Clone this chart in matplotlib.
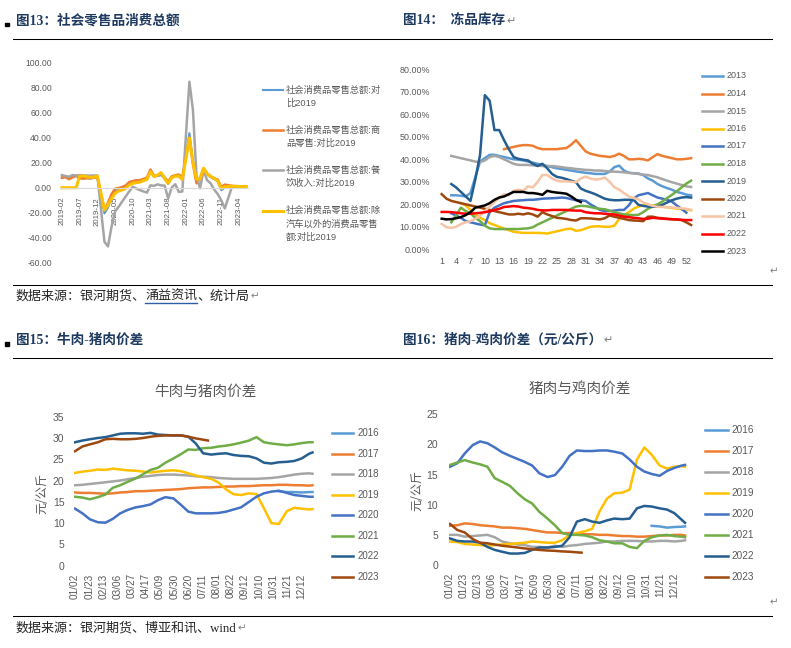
import numpy as np
import pandas as pd
import matplotlib
matplotlib.use('Agg')
import matplotlib.pyplot as plt
from matplotlib.lines import Line2D
from matplotlib.patches import Rectangle
from matplotlib.ticker import StrMethodFormatter

nan = np.nan

# ---------------- 图13 社会零售品消费总额 (monthly, vs 2019) ----------------
MONTHS = [p.strftime('%Y-%m') for p in pd.period_range('2019-02', '2023-06', freq='M')]
RETAIL_TOTAL = [8.2, 8.7, 7.2, 8.6, 9.8, 7.6, 7.5, 7.8, 7.2, 8.0, 8.0,
                nan, -20.5, -15.8, -7.5, -2.8, -1.8, -1.1, 0.5, 3.3, 4.3, 5.0, 4.6,
                nan, 6.4, 13.0, 8.9, 9.3, 10.1, 7.3, 3.0, 7.9, 9.4, 9.1, 6.4,
                nan, 43.5, 21.0, 5.5, 6.5, 15.0, 10.5, 8.5, 7.0, 5.0, -2.0, 0.0,
                nan, 1.0, 1.0, 1.0, 1.0, 1.0]
RETAIL_GOODS = [8.0, 8.4, 6.8, 8.3, 9.5, 7.5, 7.3, 7.6, 7.5, 8.0, 8.5,
                nan, -17.6, -12.0, -5.1, -0.8, -0.2, 0.5, 1.8, 4.5, 5.3, 6.0, 6.0,
                nan, 8.0, 14.5, 9.5, 10.0, 11.5, 8.2, 5.0, 9.0, 10.0, 10.5, 8.0,
                nan, 40.0, 19.0, 3.5, 7.5, 15.5, 11.5, 9.0, 7.5, 6.5, 0.5, 2.5,
                nan, 1.5, 1.2, 1.2, 1.0, 1.0]
RETAIL_CATERING = [10.1, 9.3, 8.8, 10.1, 9.6, 10.1, 9.8, 9.8, 9.6, 9.8, 9.8,
                   nan, -43.1, -46.8, -31.1, -18.9, -15.2, -11.0, -7.0, -2.9, 0.8, -0.6, -1.9,
                   nan, -3.9, 1.9, 1.5, 2.7, 1.9, 1.7, -8.5, 0.1, 2.8, -3.3, -3.0,
                   nan, 84.5, 62.0, 10.0, -0.5, 14.0, 6.0, 3.5, -1.5, -5.0, -10.0, -16.5,
                   nan, 0.5, 1.0, 1.0, 1.0, 1.0]
RETAIL_EX_AUTO = [0, 0, 0, 0, 0, 9.3, 9.3, 8.8, 8.2, 8.5, 9.3,
                  nan, -17.8, -13.8, -8.5, -4.5, -2.6, -1.8, -0.5, 2.2, 3.5, 4.0, 4.5,
                  nan, 6.7, 12.8, 8.8, 10.0, 12.0, 7.4, 3.5, 8.0, 9.3, 9.3, 6.6,
                  nan, 39.5, 20.0, 7.0, 7.0, 15.5, 11.0, 9.0, 7.5, 5.5, -0.5, 0.8,
                  nan, 1.2, 1.2, 1.0, 1.0, 1.0]
RETAIL_LABELS = [['社会消费品零售总额:对', '比2019'],
                 ['社会消费品零售总额:商', '品零售:对比2019'],
                 ['社会消费品零售总额:餐', '饮收入:对比2019'],
                 ['社会消费品零售总额:除', '汽车以外的消费品零售', '额:对比2019']]
RETAIL_COLORS = ['#5B9BD5', '#ED7D31', '#A5A5A5', '#FFC000']
RETAIL_LW = [1.5, 1.8, 1.8, 2.2]

# ---------------- 图14 冻品库存 (weekly, %) ----------------
WEEKS = list(range(1, 54))
STOCK_YEARS = ['2013', '2014', '2015', '2016', '2017', '2018', '2019', '2020', '2021', '2022', '2023']
STOCK_COLORS = ['#5B9BD5', '#ED7D31', '#A5A5A5', '#FFC000', '#4472C4', '#70AD47',
                '#255E91', '#9E480E', '#F7C4A5', '#FF0000', '#000000']
S2013 = [nan, nan, 24.0, 24.0, 23.8, 23.5, 25.0, 32.0, 39.0, 40.5, 42.0, 42.0, 41.5, 41.0, 40.5,
         40.0, 39.8, 39.5, 39.0, 38.5, 38.0, 37.5, 37.0, 36.5, 36.0, 35.7, 35.3, 35.0, 34.6, 34.3,
         34.0, 33.8, 33.5, 33.5, 33.5, 34.5, 36.5, 37.2, 35.0, 34.0, 33.8, 33.7, 33.0, 31.5, 30.5,
         29.0, 28.0, 27.2, 26.5, 25.5, 25.0, 24.3, 24.0]
S2014 = [nan] * 13 + [44.5, 45.0, 45.5, 46.0, 46.3, 46.3, 46.0, 45.0, 44.5, 44.5, 44.5, 44.5,
                      44.8, 45.0, 46.5, 48.5, 46.0, 43.5, 42.5, 42.0, 41.5, 41.3, 41.0, 41.5, 42.5,
                      41.5, 40.0, 40.0, 40.2, 40.0, 39.5, 41.0, 42.3, 41.5, 41.0, 40.5, 40.0, 40.0,
                      40.2, 40.5]
S2015 = [nan, nan, 41.5, 41.0, 40.5, 40.0, 39.5, 39.0, 38.7, 39.5, 41.0, 41.5, 41.0, 40.0, 39.0,
         38.0, 37.5, 37.5, 37.5, 37.3, 37.2, 37.0, 37.0, 37.0, 36.8, 36.5, 36.2, 36.0, 35.7, 35.5,
         35.3, 35.2, 35.0, 35.0, 34.8, 34.6, 34.5, 34.4, 34.2, 34.0, 33.8, 33.5, 33.2, 33.0, 32.5,
         32.0, 31.2, 30.5, 29.8, 29.2, 28.6, 28.0, 27.7]
S2016 = [nan] * 4 + [20.5, 19.5, 17.5, 15.5, 14.0, 13.0, 11.6, 10.8, 10.0, 9.2, 8.5, 7.8, 7.5,
                     7.3, 7.3, 7.3, 7.3, 7.2, 7.0, 7.5, 8.0, 8.5, 9.0, 9.2, 8.2, 8.5, 9.2, 10.0,
                     10.2, 10.2, 10.0, 10.0, 10.5, 13.5, 15.0, 16.5, 18.0, 19.0, 19.5, 19.8, 19.5,
                     19.2, 19.0, 18.7, 18.4, 18.1, 17.9, 17.7, 17.4]
S2017 = [nan, nan, 16.0, 15.0, 14.0, 12.5, 12.0, 11.5, 11.0, 10.7, 16.5, 18.5, 19.5, 20.5, 21.0,
         21.5, 21.7, 21.8, 22.0, 22.0, 22.2, 22.5, 22.6, 22.7, 22.8, 23.0, 22.8, 22.3, 21.8, 21.8,
         21.5, 20.0, 18.8, 17.5, 17.0, 17.0, 17.2, 17.5, 17.5, 19.5, 22.5, 24.0, 24.5, 25.0, 24.0,
         23.0, 22.5, 22.0, 21.2, 19.5, 18.0, 16.3, nan]
S2018 = [nan, nan, 12.0, 15.0, 18.5, 17.0, 16.0, 14.0, 12.5, 10.5, 9.3, 9.0, 9.0, 9.0, 9.0, 9.0,
         9.0, 9.2, 9.3, 9.8, 11.0, 12.0, 13.0, 14.0, 15.0, 16.0, 17.0, 18.0, 19.0, 19.3, 19.2,
         18.8, 18.3, 18.0, 17.8, 17.2, 16.5, 16.0, 15.5, 15.3, 15.2, 15.3, 16.5, 18.0, 19.0, 20.0,
         21.2, 22.8, 24.2, 25.8, 27.5, 29.2, 30.5]
S2019 = [nan, nan, 29.0, 27.5, 25.5, 23.5, 21.5, 31.0, 42.0, 68.5, 66.0, 53.0, 53.0, 48.5, 44.5,
         41.0, 40.2, 39.8, 39.5, 38.0, 37.0, 38.0, 36.0, 33.5, 32.2, 31.8, 31.2, 30.5, 29.8, 27.0,
         26.0, 25.3, 24.5, 23.5, 22.5, 22.0, 21.8, 21.8, 22.0, 22.0, 22.0, 19.8, 19.3, 19.0, 18.9,
         19.0, 19.8, 20.8, 21.8, 22.5, 23.0, 23.2, 23.0]
S2020 = [24.5, 22.5, 21.5, 21.0, 20.5, 20.0, 19.5, 19.0, 18.5, 18.0, 17.5, 17.0, 16.5, 16.0, 15.5,
         15.5, 15.8, 15.5, 16.0, 15.5, 14.5, 16.5, 15.5, 14.8, 14.0, 13.8, 13.5, 13.0, 12.8, 13.8,
         13.8, 13.7, 13.5, 13.3, 13.8, 15.0, 14.5, 14.0, 13.5, 13.0, 12.8, 12.7, 12.5, 14.5, 14.5,
         14.0, 13.8, 13.5, 13.3, 13.2, 13.0, 12.0, 10.8]
S2021 = [11.3, 9.8, 9.5, 10.0, 11.2, 12.0, 12.5, 13.5, 15.0, 17.0, 19.0, 21.0, 23.0, 24.5, 24.0,
         26.0, 26.5, 26.0, 28.0, 27.5, 30.0, 33.0, 33.0, 31.5, 30.5, 30.2, 30.2, 30.0, 29.8, 31.5,
         32.3, 31.5, 31.0, 31.2, 31.9, 30.0, 27.6, 26.5, 25.0, 23.5, 22.8, 22.2, 20.8, 20.0, 19.3,
         18.9, 18.8, 18.7, 18.6, 18.4, 18.2, 18.0, 17.5]
S2022 = [16.6, 16.6, 16.5, 16.3, 16.0, 15.8, 15.8, 16.0, 16.2, 16.5, 16.8, 17.5, 18.0, 18.8, 19.0,
         19.2, 19.0, 18.5, 18.3, 18.0, 17.5, 17.3, 17.3, 17.5, 17.5, 17.5, 17.5, 17.3, 17.2, 17.2,
         16.5, 16.2, 16.0, 16.0, 15.8, 15.6, 15.5, 15.0, 14.5, 14.3, 14.0, 13.8, 13.5, 13.6, 14.0,
         13.8, 13.6, 13.5, 13.4, 13.3, 13.1, 13.0, 13.0]
S2023 = [13.6, 13.3, 13.4, 13.8, 14.3, 15.2, 16.5, 18.5, 19.0, 19.5, 20.5, 22.0, 23.0, 23.5, 24.5,
         25.5, 25.5, 25.5, 25.0, 25.0, 24.7, 24.2, 26.0, 25.5, 25.2, 25.0, 24.7, 23.5, 22.0, 21.0] + [nan] * 23
STOCK = [S2013, S2014, S2015, S2016, S2017, S2018, S2019, S2020, S2021, S2022, S2023]

# ---------------- 图15 / 图16 price spreads (sampled along the trading-day axis) ----------------
DATE_LABELS = ['01/02', '01/23', '02/13', '03/06', '03/27', '04/17', '05/09', '05/30', '06/20',
               '07/11', '08/01', '08/22', '09/12', '10/10', '10/31', '11/21', '12/12']
SAMPLE_DAYS = [0, 11, 22, 34, 45, 56, 67, 78, 90, 101, 112, 123, 134, 146, 157, 168, 179, 190,
               202, 213, 224, 235, 246, 258, 269, 280, 291, 302, 314, 325, 336, 347, 352]
SAMPLE_DAYS_2023 = SAMPLE_DAYS[:18] + [197]
SPREAD_YEARS = ['2016', '2017', '2018', '2019', '2020', '2021', '2022', '2023']
SPREAD_COLORS = ['#5B9BD5', '#ED7D31', '#A5A5A5', '#FFC000', '#4472C4', '#70AD47', '#255E91', '#9E480E']

BEEF_PORK = [
    [nan] * 27 + [17.5, 17.3, 17.3, 17.2, 17.3, 17.3],
    [17.2, 17.1, 17.1, 17.0, 16.9, 17.0, 17.2, 17.3, 17.5, 17.5, 17.6, 17.7, 17.8, 17.9, 18.0, 18.2,
     18.3, 18.4, 18.4, 18.5, 18.6, 18.6, 18.7, 18.7, 18.8, 18.9, 18.9, 19.0, 19.0, 18.9, 18.9, 18.8, 18.9],
    [18.9, 19.0, 19.2, 19.4, 19.6, 19.8, 20.0, 20.3, 20.6, 20.9, 21.1, 21.3, 21.4, 21.4, 21.3, 21.2,
     21.0, 20.9, 20.8, 20.6, 20.5, 20.4, 20.4, 20.4, 20.4, 20.5, 20.6, 20.8, 21.1, 21.4, 21.6, 21.7, 21.6],
    [21.8, 22.1, 22.3, 22.6, 22.5, 22.8, 22.6, 22.4, 22.3, 22.1, 21.9, 22.1, 22.3, 22.4, 22.2, 21.7,
     21.2, 20.8, 20.4, 19.5, 17.9, 16.8, 16.6, 17.0, 16.8, 13.5, 10.0, 9.8, 12.8, 13.6, 13.4, 13.2, 13.3],
    [13.4, 12.3, 10.9, 10.2, 10.1, 11.0, 12.3, 13.1, 13.7, 14.0, 14.4, 15.4, 16.1, 15.8, 14.3, 12.7,
     12.3, 12.3, 12.3, 12.4, 12.7, 13.2, 13.7, 15.0, 16.2, 17.0, 17.4, 17.6, 17.1, 16.6, 16.4, 16.2, 16.2],
    [16.2, 16.0, 15.6, 16.1, 16.7, 18.3, 18.9, 19.7, 20.5, 21.5, 22.5, 23.0, 24.2, 25.2, 26.2, 27.3,
     27.2, 27.6, 27.7, 28.0, 28.2, 28.5, 28.9, 29.4, 30.2, 29.0, 28.7, 28.5, 28.3, 28.5, 28.8, 29.0, 29.0],
    [29.0, 29.4, 29.7, 30.0, 30.2, 30.6, 31.0, 31.1, 31.1, 31.0, 31.2, 30.8, 30.7, 30.6, 30.6, 30.3,
     28.7, 26.4, 26.1, 26.3, 26.4, 26.0, 25.8, 25.7, 25.2, 24.2, 24.0, 24.3, 24.4, 24.6, 25.2, 26.3, 26.6],
    [26.9, 28.0, 28.5, 29.0, 29.7, 29.8, 29.7, 29.7, 29.8, 30.0, 30.3, 30.5, 30.6, 30.6, 30.6, 30.3,
     29.9, 29.6, 29.4],
]
PORK_CHICKEN = [
    [nan] * 27 + [6.5, 6.4, 6.2, 6.3, 6.35, 6.4],
    [6.5, 6.6, 6.9, 6.8, 6.6, 6.5, 6.4, 6.2, 6.2, 6.1, 6.0, 5.8, 5.6, 5.4, 5.4, 5.3, 5.3, 5.1, 5.1,
     5.1, 5.0, 5.0, 4.9, 4.8, 4.8, 4.7, 4.7, 4.8, 4.9, 4.9, 5.0, 5.0, 4.9],
    [5.0, 5.0, 4.7, 4.8, 4.9, 5.0, 4.6, 3.9, 3.6, 3.4, 3.3, 3.0, 3.0, 2.9, 3.2, 3.0, 3.2, 3.3, 3.5,
     3.6, 3.7, 3.9, 3.9, 4.0, 4.0, 4.0, 3.9, 3.9, 4.0, 4.0, 3.9, 4.0, 4.1],
    [3.9, 3.8, 3.5, 3.4, 3.3, 3.2, 3.3, 3.4, 3.5, 3.6, 3.7, 3.9, 3.8, 3.7, 3.7, 4.1, 5.0, 5.3, 5.6,
     6.0, 8.9, 11.0, 11.9, 12.0, 12.5, 17.5, 19.5, 18.3, 16.5, 16.0, 16.3, 16.4, 16.3],
    [16.3, 16.9, 18.5, 19.9, 20.5, 20.2, 19.5, 18.7, 18.1, 17.6, 17.1, 16.5, 15.2, 14.6, 14.9, 16.3,
     18.1, 19.0, 18.9, 18.9, 19.0, 19.0, 18.8, 18.5, 17.5, 16.3, 15.5, 15.1, 14.8, 15.6, 16.1, 16.5, 16.6],
    [16.6, 17.0, 17.4, 17.0, 16.7, 16.3, 14.4, 13.8, 13.1, 11.9, 10.9, 10.2, 8.8, 7.7, 6.6, 5.3, 5.0,
     5.0, 4.9, 4.6, 4.1, 3.9, 3.6, 3.6, 3.0, 2.8, 4.0, 4.6, 4.9, 5.0, 4.8, 4.7, 4.6],
    [4.4, 4.0, 3.9, 3.9, 3.7, 3.0, 2.5, 2.2, 1.9, 1.9, 2.0, 2.5, 2.9, 2.9, 3.0, 3.2, 4.6, 7.2, 7.6,
     7.2, 7.0, 7.4, 7.7, 7.6, 7.7, 9.4, 9.8, 9.7, 9.4, 9.2, 8.6, 7.5, 7.0],
    [6.8, 5.8, 5.4, 4.3, 3.7, 3.6, 3.4, 3.2, 3.05, 2.9, 2.75, 2.6, 2.5, 2.4, 2.35, 2.25, 2.2, 2.1, 2.05],
]

# ---------------- layout helpers (pixel coordinates, origin top-left) ----------------
W, H = 791, 648
GRAY = '#595959'
NAVY = '#1F3A60'
SANS = ['Liberation Sans', 'Noto Sans CJK SC', 'DejaVu Sans']
CJK = ['Noto Sans CJK SC', 'DejaVu Sans']
SERIF = ['Liberation Serif', 'Noto Sans CJK SC', 'DejaVu Sans']

plt.rcParams['font.family'] = SANS
plt.rcParams['axes.unicode_minus'] = False

fig = plt.figure(figsize=(W / 100, H / 100), dpi=100)
renderer = fig.canvas.get_renderer()


def px_axes(left, top, right, bottom):
    ax = fig.add_axes([left / W, 1 - bottom / H, (right - left) / W, (bottom - top) / H])
    ax.patch.set_alpha(0)
    return ax


def ftext(x, y, s, **kw):
    return fig.text(x / W, 1 - y / H, s, **kw)


def fline(x0, x1, y, color='black', lw=0.75):
    fig.add_artist(Line2D([x0 / W, x1 / W], [1 - y / H] * 2, color=color, lw=lw))


def text_run(x, y, parts, **kw):
    # consecutive pieces of one line, so single words can be decorated
    out = []
    for s in parts:
        t = ftext(x, y, s, **kw)
        bb = t.get_window_extent(renderer)
        x = bb.x1
        out.append(t)
    return out


def add_return(t, fs=7.5):
    bb = t.get_window_extent(renderer)
    fig.text((bb.x1 + 1) / W, (bb.y0 + bb.y1) / 2 / H, '↵', fontsize=fs, color='#7F7F7F',
             family=['DejaVu Sans'], va='center')


def header(x, y, s, square=False, ret=False):
    t = ftext(x, y, s, fontsize=9.8, fontweight='bold', color=NAVY, family=SERIF, va='center')
    if square:
        fig.add_artist(Rectangle((5 / W, 1 - (y + 5.5) / H), 3.5 / W, 3.5 / H, color='black'))
    if ret:
        add_return(t, 8)


def legend_px(labels, colors, x0, x1, xt, y0, dy, fs, lws=None):
    for k, (lab, c) in enumerate(zip(labels, colors)):
        y = y0 + k * dy
        fline(x0, x1, y, color=c, lw=lws[k] if lws else 1.8)
        ftext(xt, y, lab, fontsize=fs, color=GRAY, va='center')


# ---------------- headers, rules, sources ----------------
header(16, 20.7, '图13：社会零售品消费总额', square=True)
header(403.3, 20.7, '图14：  冻品库存', ret=True)
header(16, 340, '图15：牛肉-猪肉价差', square=True)
header(403.3, 340, '图16：猪肉-鸡肉价差（元/公斤）', ret=True)
for y in [39.3, 285.3, 358.3, 615.7]:
    fline(13, 772, y)

src_kw = dict(fontsize=9.4, color='#262626', family=SERIF, va='center')
p1 = text_run(15.3, 296.7, ['数据来源：银河期货、', '涌益资讯', '、统计局'], **src_kw)
ub = p1[1].get_window_extent(renderer)
fig.add_artist(Line2D([ub.x0 / W, ub.x1 / W], [(ub.y0 - 0.5) / H] * 2, color='#2E5DA8', lw=1.0))
add_return(p1[-1])
p2 = text_run(15.3, 628.3, ['数据来源：银河期货、博亚和讯、wind'], **src_kw)
add_return(p2[-1])
ftext(770, 271.7, '↵', fontsize=7.5, color='#7F7F7F', family=['DejaVu Sans'], va='center')
ftext(770, 602.7, '↵', fontsize=7.5, color='#7F7F7F', family=['DejaVu Sans'], va='center')

# ---------------- 图13 ----------------
ax = px_axes(60.2, 62.3, 247.8, 263.0)
for s in ['top', 'right', 'left']:
    ax.spines[s].set_visible(False)
# the category axis crosses at zero; set before the ticks (set_position resets them)
ax.spines['bottom'].set_position(('data', 0))
ax.spines['bottom'].set_color('#D9D9D9')
x13 = np.arange(len(MONTHS))
for vals, c, lw in zip([RETAIL_TOTAL, RETAIL_GOODS, RETAIL_CATERING, RETAIL_EX_AUTO],
                       RETAIL_COLORS, RETAIL_LW):
    v = np.array(vals, dtype=float)
    m = ~np.isnan(v)
    ax.plot(x13[m], v[m], color=c, lw=lw, solid_joinstyle='round')
ax.set_xlim(-0.5, 52.5)
ax.set_ylim(-60, 100)
ax.set_yticks(np.arange(-60, 101, 20))
ax.yaxis.set_major_formatter(StrMethodFormatter('{x:.2f}'))
ax.set_xticks(x13[::5], MONTHS[::5], rotation=90)
ax.tick_params(length=0, colors=GRAY)
ax.tick_params(axis='y', labelsize=6.2, pad=5.9)
ax.tick_params(axis='x', labelsize=5.6, pad=6.5)

for k, lines in enumerate(RETAIL_LABELS):
    y = 90 + 40.2 * k
    fline(263.3, 283.3, y, color=RETAIL_COLORS[k], lw=RETAIL_LW[k])
    for j, s in enumerate(lines):
        ftext(286, y + 13.3 * j, s, fontsize=6.7, color=GRAY, va='center')

# ---------------- 图14 ----------------
ax = px_axes(439.3, 69.3, 693.5, 249.3)
for vals, c in zip(STOCK, STOCK_COLORS):
    ax.plot(WEEKS, vals, color=c, lw=1.8, solid_joinstyle='round')
ax.set_xlim(0.5, 53.5)
ax.set_ylim(0, 80)
ax.set_yticks(np.arange(0, 81, 10))
ax.yaxis.set_major_formatter(StrMethodFormatter('{x:.2f}%'))
ax.set_xticks(range(1, 53, 3))
for s in ax.spines.values():
    s.set_visible(False)
ax.tick_params(length=0, colors=GRAY, labelsize=6.4)
ax.tick_params(axis='y', pad=6.7)
ax.tick_params(axis='x', pad=5.5)
legend_px(STOCK_YEARS, STOCK_COLORS, 702.3, 723.3, 726.3, 76, 17.5, 6.5)


# ---------------- 图15 / 图16 ----------------
def spread_chart(box, series, ymax, title, title_xy, ylab_xy, ypad):
    ax = px_axes(*box)
    for k, (vals, c) in enumerate(zip(series, SPREAD_COLORS)):
        days = SAMPLE_DAYS_2023 if SPREAD_YEARS[k] == '2023' else SAMPLE_DAYS
        ax.plot(days, vals, color=c, lw=1.8, solid_joinstyle='round')
    ax.set_xlim(-2, 356)
    ax.set_ylim(0, ymax)
    ax.set_yticks(np.arange(0, ymax + 1, 5))
    ax.set_xticks(np.arange(len(DATE_LABELS)) * 21, DATE_LABELS, rotation=90)
    for s in ax.spines.values():
        s.set_visible(False)
    ax.tick_params(length=0, colors=GRAY)
    ax.tick_params(axis='y', labelsize=7.5, pad=ypad)
    ax.tick_params(axis='x', labelsize=7.2, pad=5.5)
    ftext(title_xy[0], title_xy[1], title, fontsize=10.5, color=GRAY, family=CJK,
          ha='center', va='center')
    ftext(ylab_xy[0], ylab_xy[1], '元/公斤', fontsize=8.7, color=GRAY, family=CJK,
          ha='center', va='center', rotation=90)


spread_chart((73.65, 416.7, 315.2, 565.7), BEEF_PORK, 35, '牛肉与猪肉价差', (205, 391.7), (41.7, 493.3), 6.7)
legend_px(SPREAD_YEARS, SPREAD_COLORS, 331.7, 353.3, 358, 433.3, 20.5, 7)
spread_chart((448.7, 414.3, 687.7, 565.0), PORK_CHICKEN, 25, '猪肉与鸡肉价差', (580, 389.3), (416.7, 490), 7.5)
legend_px(SPREAD_YEARS, SPREAD_COLORS, 705, 728, 731.7, 430, 20.95, 7.2)

fig.savefig('out.png', dpi=100)
